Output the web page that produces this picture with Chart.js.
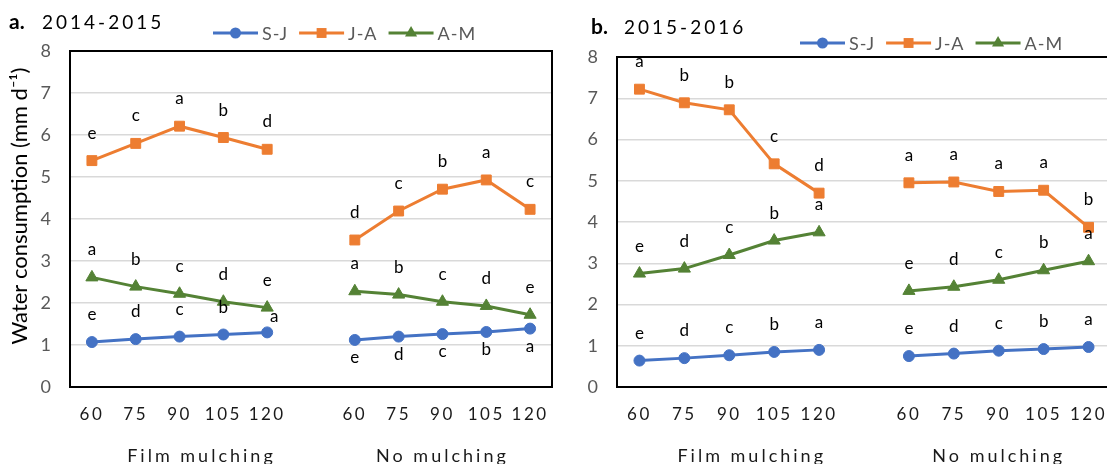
<!DOCTYPE html>
<html>
<head>
<meta charset="utf-8">
<title>Water consumption</title>
<script src="https://cdn.jsdelivr.net/npm/chart.js@4.4.1/dist/chart.umd.min.js"></script>
<style>
  html, body { margin: 0; padding: 0; background: #fff; overflow: hidden; width: 1107px; height: 464px; }
  .panel { position: absolute; top: 0; height: 464px; }
  #wrapA { left: 0; width: 560px; }
  #wrapB { left: 560px; width: 560px; }
</style>
</head>
<body>
<div class="panel" id="wrapA"><canvas id="chartA" width="560" height="464"></canvas></div>
<div class="panel" id="wrapB"><canvas id="chartB" width="560" height="464"></canvas></div>
<script>
// ---- data -------------------------------------------------------------
const irrigationLevels = ['60', '75', '90', '105', '120'];
const groupNames = ['Film mulching', 'No mulching'];
const seriesNames = ['S-J', 'J-A', 'A-M'];

// 2014-2015 season (mm d-1)
const sj1415Film = [1.07, 1.14, 1.20, 1.25, 1.30];
const sj1415None = [1.12, 1.20, 1.26, 1.31, 1.39];
const ja1415Film = [5.39, 5.80, 6.21, 5.94, 5.66];
const ja1415None = [3.50, 4.19, 4.71, 4.93, 4.23];
const am1415Film = [2.61, 2.39, 2.22, 2.03, 1.89];
const am1415None = [2.28, 2.20, 2.03, 1.93, 1.72];

// 2015-2016 season (mm d-1)
const sj1516Film = [0.64, 0.70, 0.77, 0.85, 0.90];
const sj1516None = [0.75, 0.81, 0.88, 0.92, 0.97];
const ja1516Film = [7.22, 6.89, 6.72, 5.41, 4.70];
const ja1516None = [4.95, 4.97, 4.74, 4.77, 3.87];
const am1516Film = [2.75, 2.87, 3.20, 3.55, 3.75];
const am1516None = [2.33, 2.43, 2.60, 2.83, 3.05];

// significance letters
const sjLetters1415Film = ['e', 'd', 'c', 'b', 'a'];
const sjLetters1415None = ['e', 'd', 'c', 'b', 'a'];
const jaLetters1415Film = ['e', 'c', 'a', 'b', 'd'];
const jaLetters1415None = ['d', 'c', 'b', 'a', 'c'];
const amLetters1415Film = ['a', 'b', 'c', 'd', 'e'];
const amLetters1415None = ['a', 'b', 'c', 'd', 'e'];

const sjLetters1516Film = ['e', 'd', 'c', 'b', 'a'];
const sjLetters1516None = ['e', 'd', 'c', 'b', 'a'];
const jaLetters1516Film = ['a', 'b', 'b', 'c', 'd'];
const jaLetters1516None = ['a', 'a', 'a', 'a', 'b'];
const amLetters1516Film = ['e', 'd', 'c', 'b', 'a'];
const amLetters1516None = ['e', 'd', 'c', 'b', 'a'];

const yTicks = [0, 1, 2, 3, 4, 5, 6, 7, 8];

// ---- styling ------------------------------------------------------------
const FONT = 'Lato, "Open Sans", "DejaVu Sans", sans-serif';
const seriesStyle = [
  { color: '#4472C4', pointStyle: 'circle',   radius: 5.5 },
  { color: '#ED7D31', pointStyle: 'rect',     radius: 7 },
  { color: '#548235', pointStyle: 'triangle', radius: 7 }
];

// categories: film group (5 levels + spacer) then no-mulching group
const categories = [...irrigationLevels, '', ...irrigationLevels];
const filmSpan = irrigationLevels.length + 1;         // levels plus spacer slot
const groupCenters = [
  (filmSpan - 1) / 2,
  filmSpan + (irrigationLevels.length - 1) / 2
];

function joinGroups(film, none) { return [...film, null, ...none]; }

function makeDataset(idx, film, none, lettersFilm, lettersNone, placeFilm, placeNone, nudge) {
  const st = seriesStyle[idx];
  return {
    label: seriesNames[idx],
    data: joinGroups(film, none),
    sigLetters: joinGroups(lettersFilm, lettersNone),
    sigPlace: joinGroups(film.map(() => placeFilm), none.map(() => placeNone)),
    sigNudge: nudge || {},
    borderColor: st.color,
    backgroundColor: st.color,
    borderWidth: 3,
    pointStyle: st.pointStyle,
    pointRadius: st.radius,
    pointHoverRadius: st.radius,
    pointBorderWidth: 1,
    pointBackgroundColor: st.color,
    pointBorderColor: st.color,
    spanGaps: false,
    tension: 0
  };
}

// ---- plugins -------------------------------------------------------------
// letter-spaced tick labels on the category axes, shifted axis title
const axisTweaks = {
  id: 'axisTweaks',
  beforeDraw(chart, args, opts) {
    const spacing = opts.spacing || {};
    Object.keys(spacing).forEach(id => {
      const s = chart.scales[id];
      if (!s || s._spaced) return;
      const orig = s.drawLabels;
      s.drawLabels = function (area) {
        const c = this.ctx;
        c.save();
        c.letterSpacing = spacing[id];
        orig.call(this, area);
        c.restore();
      };
      s._spaced = true;
    });
    const ys = chart.scales.y;
    if (ys && opts.titleShift && !ys._shifted) {
      const origTitle = ys.drawTitle;
      ys.drawTitle = function () {
        const c = this.ctx;
        c.save();
        c.translate(0, opts.titleShift);
        origTitle.call(this);
        c.restore();
      };
      ys._shifted = true;
    }
  }
};

// frame around the plot area
const plotFrame = {
  id: 'plotFrame',
  beforeDatasetsDraw(chart) {
    const { ctx, chartArea: a } = chart;
    ctx.save();
    ctx.strokeStyle = '#000';
    ctx.lineWidth = 2;
    ctx.strokeRect(a.left, a.top, a.right - a.left, a.bottom - a.top);
    ctx.restore();
  }
};

// significance letters above / below each point
const sigLabels = {
  id: 'sigLabels',
  afterDatasetsDraw(chart) {
    const ctx = chart.ctx;
    ctx.save();
    ctx.font = '17px ' + FONT;
    ctx.fillStyle = '#000';
    ctx.textAlign = 'center';
    ctx.textBaseline = 'alphabetic';
    chart.data.datasets.forEach((ds, di) => {
      const meta = chart.getDatasetMeta(di);
      meta.data.forEach((pt, i) => {
        const letter = ds.sigLetters[i];
        if (!letter || ds.data[i] === null) return;
        const below = ds.sigPlace[i] === 'below';
        const nd = ds.sigNudge[i] || [0, 0];
        ctx.fillText(letter, pt.x + nd[0], (below ? pt.y + 23 : pt.y - 22) + nd[1]);
      });
    });
    ctx.restore();
  }
};

// panel heading and line+marker legend
function drawMarker(ctx, style, x, y, r) {
  ctx.beginPath();
  if (style === 'circle') {
    ctx.arc(x, y, r, 0, Math.PI * 2);
  } else if (style === 'rect') {
    const s = r * Math.SQRT1_2;
    ctx.rect(x - s, y - s, 2 * s, 2 * s);
  } else {
    ctx.moveTo(x, y - r);
    ctx.lineTo(x + r * Math.sin(2 * Math.PI / 3), y - r * Math.cos(2 * Math.PI / 3));
    ctx.lineTo(x + r * Math.sin(4 * Math.PI / 3), y - r * Math.cos(4 * Math.PI / 3));
    ctx.closePath();
  }
  ctx.fill();
}

const heading = {
  id: 'heading',
  afterDraw(chart, args, opts) {
    const ctx = chart.ctx;
    ctx.save();
    // title: bold panel letter + letter-spaced season
    ctx.textBaseline = 'alphabetic';
    ctx.textAlign = 'left';
    ctx.fillStyle = '#000';
    ctx.font = 'bold 21px ' + FONT;
    ctx.fillText(opts.tag, opts.titleX, opts.titleY);
    ctx.font = '19px ' + FONT;
    ctx.letterSpacing = '3px';
    ctx.fillText(opts.season, opts.seasonX, opts.titleY);
    ctx.letterSpacing = '1px';

    // legend
    let x = opts.legendX;
    const y = opts.legendY;
    ctx.font = '18px ' + FONT;
    ctx.textBaseline = 'middle';
    chart.data.datasets.forEach(ds => {
      const lineLen = 45;
      ctx.strokeStyle = ds.borderColor;
      ctx.fillStyle = ds.borderColor;
      ctx.lineWidth = 3;
      ctx.beginPath();
      ctx.moveTo(x, y);
      ctx.lineTo(x + lineLen, y);
      ctx.stroke();
      drawMarker(ctx, ds.pointStyle, x + lineLen / 2, y, ds.pointRadius);
      ctx.fillStyle = '#595959';
      ctx.fillText(ds.label, x + lineLen + 4, y + 1);
      x += lineLen + 4 + ctx.measureText(ds.label).width + 11;
    });
    ctx.restore();
  }
};

// ---- chart builder -------------------------------------------------------
function buildChart(canvasId, datasets, cfg) {
  return new Chart(document.getElementById(canvasId), {
    type: 'line',
    data: { labels: categories, datasets },
    plugins: [axisTweaks, plotFrame, sigLabels, heading],
    options: {
      responsive: false,
      animation: false,
      events: [],
      layout: { padding: { top: cfg.top, left: 0, right: cfg.right, bottom: 0 } },
      plugins: {
        legend: { display: false },
        tooltip: { enabled: false },
        axisTweaks: { spacing: { x: '2.5px', x2: '3px' }, titleShift: cfg.titleShift || 0 },
        heading: cfg.heading
      },
      scales: {
        x: {
          type: 'category',
          position: 'bottom',
          weight: 0,
          offset: true,
          grid: { display: false },
          border: { display: false },
          ticks: {
            autoSkip: false,
            maxRotation: 0,
            padding: 9,
            color: '#1a1a1a',
            font: { family: FONT, size: 17 }
          },
          afterFit(s) { s.height = 40; }
        },
        x2: {
          type: 'linear',
          position: 'bottom',
          weight: 1,
          min: -0.5,
          max: categories.length - 0.5,
          grid: { display: false },
          border: { display: false },
          afterBuildTicks(s) { s.ticks = groupCenters.map(v => ({ value: v })); },
          ticks: {
            autoSkip: false,
            maxRotation: 0,
            padding: 10,
            color: '#1a1a1a',
            font: { family: FONT, size: 18 },
            callback: (v) => groupNames[groupCenters.indexOf(v)]
          },
          afterFit(s) { s.height = 37; }
        },
        y: {
          min: 0,
          max: 8,
          afterBuildTicks(s) { s.ticks = yTicks.map(v => ({ value: v })); },
          grid: { color: '#d9d9d9', lineWidth: 1.5, drawTicks: false },
          border: { display: false },
          ticks: {
            padding: 19,
            color: '#595959',
            font: { family: FONT, size: 18 }
          },
          title: cfg.yTitle ? {
            display: true,
            text: cfg.yTitle,
            color: '#000',
            font: { family: FONT, size: 22 },
            padding: { top: 7, bottom: 0 }
          } : { display: false },
          afterFit(s) { s.width = cfg.axisWidth; }
        }
      }
    }
  });
}

buildChart('chartA', [
  makeDataset(0, sj1415Film, sj1415None, sjLetters1415Film, sjLetters1415None, 'above', 'below', { 4: [7, 12] }),
  makeDataset(1, ja1415Film, ja1415None, jaLetters1415Film, jaLetters1415None, 'above', 'above'),
  makeDataset(2, am1415Film, am1415None, amLetters1415Film, amLetters1415None, 'above', 'above')
], {
  top: 51, right: 7, axisWidth: 70,
  yTitle: 'Water consumption (mm d\u207B\u00B9)',
  titleShift: -13,
  heading: { tag: 'a.', season: '2014-2015', titleX: 9, seasonX: 42, titleY: 29, legendX: 213, legendY: 33 }
});

buildChart('chartB', [
  makeDataset(0, sj1516Film, sj1516None, sjLetters1516Film, sjLetters1516None, 'above', 'above'),
  makeDataset(1, ja1516Film, ja1516None, jaLetters1516Film, jaLetters1516None, 'above', 'above'),
  makeDataset(2, am1516Film, am1516None, amLetters1516Film, amLetters1516None, 'above', 'above')
], {
  top: 57, right: 9, axisWidth: 57,
  yTitle: null,
  heading: { tag: 'b.', season: '2015-2016', titleX: 31, seasonX: 64, titleY: 34, legendX: 240, legendY: 43 }
});
</script>
</body>
</html>
